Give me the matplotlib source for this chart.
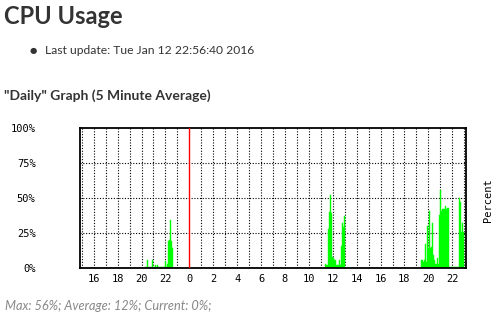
import numpy as np
import matplotlib
matplotlib.use('Agg')
import matplotlib.pyplot as plt

# =======================================================
# CPU usage, 5 minute samples (percent). Hours counted from
# the previous midnight, so 24 is midnight of Jan 12.
burst1_start = 20 + 15 / 60.0
burst1 = [1, 1, 6, 1, 1, 1, 1, 1, 6, 1, 1, 2, 1, 2, 1, 1, 1, 1, 1, 1,
          1, 5, 1, 3, 19, 20, 34, 19, 14]

burst2_start = 24 + 11 + 20 / 60.0
burst2 = [3, 2, 2, 28, 40, 52, 39, 8, 7, 6, 6, 2, 2, 2, 6, 2, 16, 32, 29, 37]

burst3_start = 24 + 19 + 25 / 60.0
burst3 = [6, 6, 4, 6, 17, 4, 30, 14, 41, 14, 15, 32, 9, 6, 3, 3, 7, 3,
          38, 56, 41, 42, 42, 42, 44, 42, 43, 43,
          1, 1, 1, 1, 1, 1, 1, 1, 1, 1,
          50, 47, 26, 32, 26]

x_start, x_end = 14.85, 47.15
ytick_vals = [0, 25, 50, 75, 100]
ytick_labels = ['0%', '25%', '50%', '75%', '100%']
xtick_vals = list(range(16, 47, 2))
xtick_labels = [str(h % 24) for h in xtick_vals]

title = 'CPU Usage'
update_txt = 'Last update: Tue Jan 12 22:56:40 2016'
graph_title = '"Daily" Graph (5 Minute Average)'
summary = 'Max: 56%; Average: 12%; Current: 0%;'

# ========================================================
fig = plt.figure(figsize=(5.02, 3.25), dpi=100)
fig.patch.set_facecolor('white')

fig.text(4 / 502, 1 - 16 / 325, title, fontsize=17, fontweight='bold',
         color='#333333', va='center', ha='left', family='Lato')
fig.text(33 / 502, 1 - 51 / 325, u'\u25cf', fontsize=6, color='#333333',
         va='center', ha='center')
fig.text(45 / 502, 1 - 51 / 325, update_txt, fontsize=8.7, color='#333333',
         va='center', ha='left', family='Lato')
fig.text(4 / 502, 1 - 96 / 325, graph_title, fontsize=10, fontweight='bold',
         color='#333333', va='center', ha='left', family='Lato')
fig.text(5 / 502, 1 - 306 / 325, summary, fontsize=9.2, style='italic',
         color='#888888', va='center', ha='left', family='Lato')

ax = fig.add_axes([80 / 502, 57 / 325, 386 / 502, 140 / 325])

step = 5 / 60.0
for start, vals in [(burst1_start, burst1), (burst2_start, burst2),
                    (burst3_start, burst3)]:
    t = start + step * np.arange(len(vals))
    ax.bar(t, vals, width=step, align='edge', color='#00ff00',
           edgecolor='#00ff00', linewidth=0.3, zorder=2)

# hourly dotted grid
for h in range(15, 48):
    if h == 24:
        continue
    ax.axvline(h, color='black', lw=0.8, ls=(0, (1, 1.5)), zorder=1)
for y in [25, 50, 75]:
    ax.axhline(y, color='black', lw=0.8, ls=(0, (1, 1.5)), zorder=1)
ax.axvline(24, color='#ff0000', lw=1, zorder=3)

ax.set_xlim(x_start, x_end)
ax.set_ylim(0, 100)
ax.set_xticks(xtick_vals)
ax.set_xticklabels(xtick_labels, family='DejaVu Sans Mono', fontsize=7.5)
ax.set_yticks(ytick_vals)
ax.set_yticklabels(ytick_labels, family='DejaVu Sans Mono', fontsize=7.5)
ax.tick_params(length=0, pad=4)
ax.tick_params(axis='y', pad=32)
for s in ax.spines.values():
    s.set_linewidth(1.3)

fig.text(488 / 502, 1 - 200 / 325, 'Percent', rotation=90, fontsize=7.5,
         family='DejaVu Sans Mono', va='center', ha='center')

plt.savefig('out.png', dpi=100)
